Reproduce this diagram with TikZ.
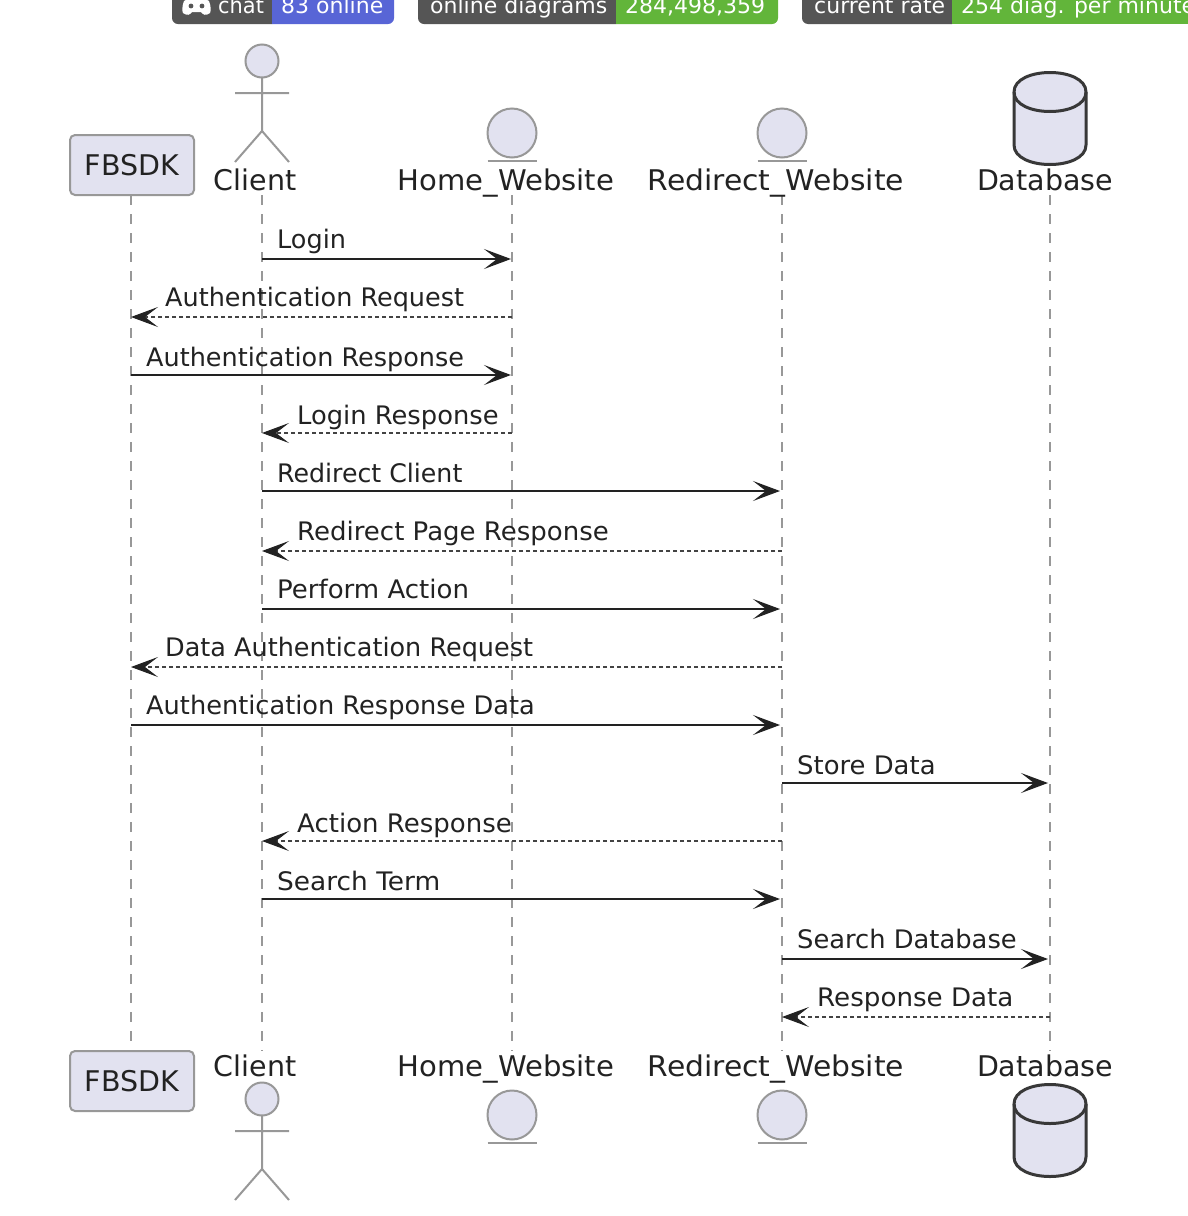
\documentclass[tikz,border=0pt]{standalone}
\usepackage{fontspec}
\setmainfont{DejaVu Sans}
\usetikzlibrary{arrows.meta}
\definecolor{pfill}{HTML}{E2E2F0}
\definecolor{ink}{HTML}{222222}
\definecolor{pgray}{HTML}{989898}
\definecolor{bdark}{HTML}{555555}
\definecolor{bblue}{HTML}{5865D6}
\definecolor{bgreen}{HTML}{62B53A}
\tikzset{
  x=1pt,y=-1pt,
  life/.style={draw=pgray,line width=1.6pt,dash pattern=on 10pt off 9pt},
  sync/.style={draw=ink,line width=2pt,-{Stealth[length=27pt,width=20pt,inset=13pt]}},
  reply/.style={draw=ink!85,line width=1.5pt,dash pattern=on 4pt off 3pt,-{Stealth[length=27pt,width=20pt,inset=13pt,color=ink,line width=1pt]}},
  msglabel/.style={anchor=base west,inner sep=0pt,font=\fontsize{25.5pt}{30pt}\selectfont,text=ink},
  partlabel/.style={anchor=base,inner sep=0pt,font=\fontsize{28.5pt}{34pt}\selectfont,text=ink},
  boxpart/.style={draw=pgray,fill=pfill,line width=2pt,rounded corners=5pt,minimum width=124pt,minimum height=60pt,inner sep=0pt,font=\fontsize{28.5pt}{34pt}\selectfont,text=ink},
  figure/.style={draw=pgray,line width=2pt,fill=pfill},
  dbshape/.style={draw=ink!90,line width=3pt,fill=pfill},
  badge/.style={anchor=base west,inner sep=0pt,text=white,font=\fontsize{22pt}{26pt}\selectfont},
}
\newcommand{\sx}[2]{\scalebox{#1}[1]{#2}}
\newcommand{\actorfig}[2]{% x, head y
  \draw[figure] (#1,#2) circle[radius=16.5pt];
  \draw[figure,fill=none] (#1,#2+16.5) -- (#1,#2+70) (#1-27,#2+32) -- (#1+27,#2+32)
     (#1-27,#2+101) -- (#1,#2+70) -- (#1+27,#2+101);
}
\newcommand{\entityfig}[2]{% x, centre y
  \draw[figure] (#1,#2) circle[radius=24.5pt];
  \draw[figure,fill=none] (#1-24.5,#2+28) -- (#1+24.5,#2+28);
}
\newcommand{\dbfig}[2]{% x, top y
  \draw[dbshape] (#1-36,#2+20) .. controls (#1-36,#2-6) and (#1+36,#2-6) .. (#1+36,#2+20)
    -- (#1+36,#2+73) .. controls (#1+36,#2+99) and (#1-36,#2+99) .. (#1-36,#2+73) -- cycle;
  \draw[dbshape,fill=none] (#1-36,#2+20) .. controls (#1-36,#2+46) and (#1+36,#2+46) .. (#1+36,#2+20);
}
\newcommand{\msgarrow}[7][11]{% [label rise], style, from, to, y, label x, label
  \draw[#2] (#3 |- 0,#5) -- (#4 |- 0,#5);
  \node[msglabel] at (#6,#5-#1) {#7};
}
\begin{document}
\begin{tikzpicture}
\useasboundingbox (0,0) rectangle (1188,1216);
\clip (0,0) rectangle (1188,1216);
\fill[white] (0,0) rectangle (1188,1216);
% badges
\fill[bdark] (172,-10) -- (272,-10) -- (272,24) -- (178,24) arc[start angle=270,end angle=180,radius=6pt] -- cycle;
\fill[bblue] (272,-10) -- (394,-10) -- (394,18) arc[start angle=0,end angle=90,radius=6pt,y radius=-6pt] -- (272,24) -- cycle;
\fill[bdark] (418,-10) -- (616,-10) -- (616,24) -- (424,24) arc[start angle=270,end angle=180,radius=6pt] -- cycle;
\fill[bgreen] (616,-10) -- (778,-10) -- (778,18) arc[start angle=0,end angle=90,radius=6pt,y radius=-6pt] -- (616,24) -- cycle;
\fill[bdark] (802,-10) -- (952,-10) -- (952,24) -- (808,24) arc[start angle=270,end angle=180,radius=6pt] -- cycle;
\fill[bgreen] (952,-10) rectangle (1200,24);
\fill[white] (184,1) .. controls (190,-3) and (204,-3) .. (209,1) .. controls (211,6) and (211,11) .. (210,13) .. controls (206,16) and (203,15) .. (201,12) -- (192,12) .. controls (190,15) and (187,16) .. (183,13) .. controls (182,11) and (182,6) .. (184,1) -- cycle;
\fill[bdark] (191,6) circle[radius=2.4pt] (202,6) circle[radius=2.4pt];
\node[badge] at (218,13) {\sx{0.95}{chat}};
\node[badge] at (281,13) {83 online};
\node[badge] at (430,13) {online diagrams};
\node[badge] at (625,13) {284,498,359};
\node[badge] at (814,13) {current rate};
\node[badge] at (961,13) {254 diag. per minute};
% lifelines
\coordinate (lF) at (131,195);  \coordinate (lFb) at (131,1051);
\coordinate (lC) at (262,195);  \coordinate (lCb) at (262,1051);
\coordinate (lH) at (512,195);  \coordinate (lHb) at (512,1051);
\coordinate (lR) at (782,195);  \coordinate (lRb) at (782,1051);
\coordinate (lD) at (1050,195); \coordinate (lDb) at (1050,1051);
\draw[life] (lF) -- (lFb);
\draw[life] (lC) -- (lCb);
\draw[life] (lH) -- (lHb);
\draw[life] (lR) -- (lRb);
\draw[life] (lD) -- (lDb);
% tip stop-offsets
\coordinate (tH) at (511,195);
\coordinate (tR) at (780,195);
\coordinate (tD) at (1048,195);
% participants top
\node[boxpart] (fbT) at (132,165) {FBSDK};
\actorfig{262}{61}
\node[partlabel] (cT) at (255,190) {Client};
\entityfig{512}{133}
\node[partlabel] (hT) at (506,190) {\sx{1.02}{Home\_Website}};
\entityfig{782}{133}
\node[partlabel] (rT) at (776,190) {\sx{1.045}{Redirect\_Website}};
\dbfig{1050}{72}
\node[partlabel] (dT) at (1045,190) {Database};
% participants bottom
\node[boxpart] (fbB) at (132,1081) {FBSDK};
\actorfig{262}{1099}
\node[partlabel] (cB) at (255,1076) {Client};
\entityfig{512}{1115}
\node[partlabel] (hB) at (506,1076) {\sx{1.02}{Home\_Website}};
\entityfig{782}{1115}
\node[partlabel] (rB) at (776,1076) {\sx{1.045}{Redirect\_Website}};
\dbfig{1050}{1084}
\node[partlabel] (dB) at (1045,1076) {Database};
% messages
\msgarrow{sync}{lC}{tH}{259}{277}{Login}
\msgarrow{reply}{lH}{lF}{317}{165}{Authentication Request}
\msgarrow[9]{sync}{lF}{tH}{375}{146}{Authentication Response}
\msgarrow[9]{reply}{lH}{lC}{433}{297}{\sx{1.01}{Login Response}}
\msgarrow[9]{sync}{lC}{tR}{491}{277}{\sx{0.99}{Redirect Client}}
\msgarrow{reply}{lR}{lC}{551}{297}{\sx{1.02}{Redirect Page Response}}
\msgarrow{sync}{lC}{tR}{609}{277}{\sx{1.02}{Perform Action}}
\msgarrow{reply}{lR}{lF}{667}{165}{Data Authentication Request}
\msgarrow{sync}{lF}{tR}{725}{146}{\sx{1.005}{Authentication Response Data}}
\msgarrow[9]{sync}{lR}{tD}{783}{797}{\sx{1.015}{Store Data}}
\msgarrow[9]{reply}{lR}{lC}{841}{297}{\sx{1.02}{Action Response}}
\msgarrow[9]{sync}{lC}{tR}{899}{277}{\sx{1.035}{Search Term}}
\msgarrow{sync}{lR}{tD}{959}{797}{\sx{1.01}{Search Database}}
\msgarrow{reply}{lD}{lR}{1017}{817}{\sx{1.025}{Response Data}}
\end{tikzpicture}
\end{document}
